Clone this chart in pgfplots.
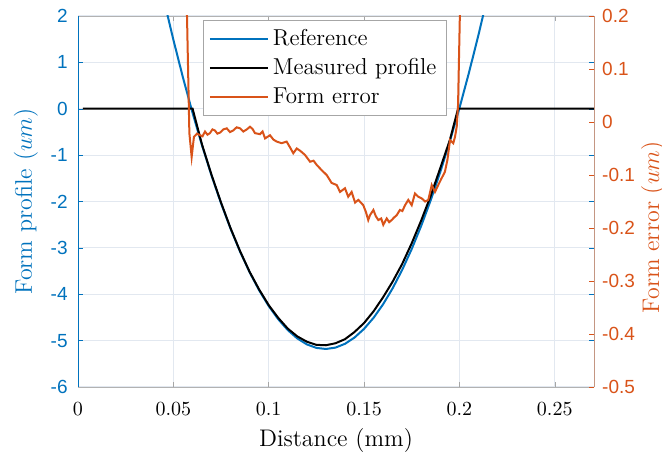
\documentclass[border=0pt]{standalone}
\usepackage{fontspec}
\usepackage{pgfplots}
\pgfplotsset{compat=1.18}
\newfontfamily\tickf{Liberation Sans}
\definecolor{mblue}{RGB}{0,114,189}
\definecolor{morange}{RGB}{217,83,25}
\definecolor{gridc}{RGB}{226,232,240}
\definecolor{rspine}{RGB}{196,150,130}

\begin{document}
\begin{tikzpicture}
\useasboundingbox (-39pt,-35.5pt) rectangle (292pt,193.5pt);
% left axis: reference and measured profile
\begin{axis}[
  at={(0,0)}, anchor=south west, scale only axis,
  width=258pt, height=185.5pt,
  xmin=0, xmax=0.2706, ymin=-6, ymax=2,
  xtick={0,0.05,0.1,0.15,0.2,0.25}, xticklabels={0,0.05,0.1,0.15,0.2,0.25},
  ytick={-6,-5,-4,-3,-2,-1,0,1,2},
  grid=major, major grid style={gridc, line width=0.5pt},
  separate axis lines,
  x axis line style={gray!60}, y axis line style={mblue},
  tick align=inside, major tick length=2.5pt,
  x tick style={gray!70}, y tick style={mblue},
  xticklabel style={font=\fontsize{10}{12}\selectfont, anchor=base, yshift=-14.5pt},
  yticklabel style={font=\tickf\fontsize{9.5}{11}\selectfont, text=mblue,
    /pgf/number format/assume math mode=true, anchor=east, inner sep=0pt, xshift=-5pt},
  xlabel={Distance (mm)}, ylabel={Form profile $(um)$},
  every axis x label/.style={at={(rel axis cs:0.5,-0.1617)}, anchor=base,
    font=\fontsize{12}{14}\selectfont},
  every axis y label/.style={at={(rel axis cs:-0.1008,0.5)}, anchor=center, rotate=90,
    font=\fontsize{12}{14}\selectfont, text=mblue},
]
  % reference form
  \addplot[mblue, line width=1pt] coordinates {
    (0.045,2.353) (0.050,1.490) (0.055,0.679) (0.060,-0.079) (0.065,-0.785)
    (0.070,-1.438) (0.075,-2.038) (0.080,-2.586) (0.085,-3.082) (0.090,-3.525)
    (0.095,-3.916) (0.100,-4.254) (0.105,-4.539) (0.110,-4.773) (0.115,-4.953)
    (0.120,-5.081) (0.125,-5.157) (0.130,-5.180) (0.135,-5.151) (0.140,-5.069)
    (0.145,-4.934) (0.150,-4.747) (0.155,-4.508) (0.160,-4.216) (0.165,-3.872)
    (0.170,-3.475) (0.175,-3.025) (0.180,-2.523) (0.185,-1.969) (0.190,-1.362)
    (0.195,-0.703) (0.200,0.009) (0.205,0.774) (0.210,1.590) (0.215,2.460)};
  % measured profile
  \addplot[black, line width=1pt] coordinates {
    (0.0026,0) (0.0601,0) (0.065,-0.767) (0.070,-1.422) (0.075,-2.022)
    (0.080,-2.576) (0.085,-3.072) (0.090,-3.517) (0.095,-3.898) (0.100,-4.234)
    (0.105,-4.509) (0.110,-4.741) (0.115,-4.909) (0.120,-5.023) (0.125,-5.091)
    (0.130,-5.100) (0.135,-5.057) (0.140,-4.969) (0.145,-4.814) (0.150,-4.621)
    (0.155,-4.368) (0.160,-4.064) (0.165,-3.728) (0.170,-3.347) (0.175,-2.901)
    (0.180,-2.407) (0.185,-1.873) (0.190,-1.277) (0.195,-0.675) (0.1993,0)
    (0.2706,0)};
\end{axis}

% right axis: form error
\begin{axis}[
  at={(0,0)}, anchor=south west, scale only axis,
  width=258pt, height=185.5pt,
  xmin=0, xmax=0.2706, ymin=-0.5, ymax=0.2,
  axis x line=none, axis y line*=right,
  y axis line style={rspine},
  ytick={-0.5,-0.4,-0.3,-0.2,-0.1,0,0.1,0.2},
  yticklabels={-0.5,-0.4,-0.3,-0.2,-0.1,0,0.1,0.2},
  tick align=inside, major tick length=2.5pt, y tick style={morange},
  yticklabel style={font=\tickf\fontsize{9.5}{11}\selectfont, text=morange,
    anchor=west, inner sep=0pt, xshift=3.9pt},
  ylabel={Form error $(um)$},
  every axis y label/.style={at={(rel axis cs:1.1143,0.43)}, anchor=center, rotate=90,
    font=\fontsize{12}{14}\selectfont, text=morange},
  legend style={at={(rel axis cs:0.478,0.99)}, anchor=north, draw=gray!70, fill=white,
    font=\fontsize{11.5}{13}\selectfont, row sep=1pt, inner xsep=3pt, inner ysep=2.5pt},
  legend cell align=left,
  legend image code/.code={\draw[#1] (0pt,0pt) -- (29pt,0pt);},
]
  \addlegendimage{mblue, line width=1pt}
  \addlegendentry{Reference}
  \addlegendimage{black, line width=1pt}
  \addlegendentry{Measured profile}
  \addplot[morange, line width=1pt] coordinates {
    (0.0566,0.30) (0.0584,-0.021) (0.0596,-0.066) (0.0608,-0.028) (0.0624,-0.022)
    (0.0640,-0.025) (0.0653,-0.027) (0.0666,-0.018) (0.0679,-0.024) (0.0692,-0.021)
    (0.0705,-0.014) (0.0718,-0.016) (0.0731,-0.022) (0.0745,-0.020) (0.0762,-0.014)
    (0.0780,-0.012) (0.0797,-0.019) (0.0814,-0.016) (0.0832,-0.010) (0.0850,-0.012)
    (0.0867,-0.018) (0.0885,-0.014) (0.0902,-0.009) (0.0915,-0.013) (0.0928,-0.021)
    (0.0954,-0.023) (0.0968,-0.018) (0.0981,-0.031) (0.1007,-0.025) (0.1024,-0.033)
    (0.1042,-0.037) (0.1068,-0.040) (0.1094,-0.037) (0.1112,-0.048) (0.1129,-0.059)
    (0.1147,-0.050) (0.1164,-0.054) (0.1190,-0.062) (0.1217,-0.075) (0.1235,-0.073)
    (0.1252,-0.081) (0.1278,-0.091) (0.1304,-0.100) (0.1330,-0.115) (0.1357,-0.119)
    (0.1374,-0.132) (0.1400,-0.125) (0.1417,-0.141) (0.1435,-0.132) (0.1453,-0.152)
    (0.1470,-0.147) (0.1496,-0.157) (0.1510,-0.170) (0.1522,-0.185) (0.1531,-0.176)
    (0.1549,-0.166) (0.1562,-0.178) (0.1575,-0.185) (0.1590,-0.182) (0.1601,-0.194)
    (0.1619,-0.182) (0.1632,-0.189) (0.1645,-0.185) (0.1658,-0.180) (0.1671,-0.176)
    (0.1688,-0.166) (0.1701,-0.168) (0.1715,-0.157) (0.1732,-0.147) (0.1750,-0.157)
    (0.1767,-0.135) (0.1784,-0.141) (0.1802,-0.144) (0.1820,-0.150) (0.1837,-0.147)
    (0.1855,-0.119) (0.1872,-0.132) (0.1889,-0.119) (0.1907,-0.106) (0.1924,-0.094)
    (0.1937,-0.072) (0.1951,-0.034) (0.1968,-0.040) (0.1977,-0.028) (0.1986,-0.009)
    (0.1993,0.032) (0.2008,0.30)};
  \addlegendentry{Form error}
\end{axis}
\end{tikzpicture}
\end{document}
